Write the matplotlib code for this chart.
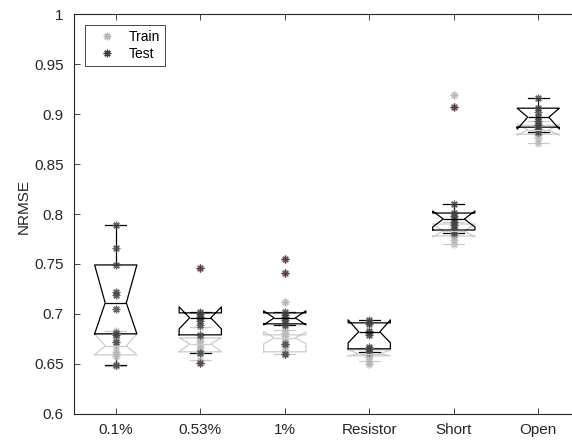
import numpy as np
import matplotlib
matplotlib.use("Agg")
import matplotlib.pyplot as plt
from matplotlib.ticker import FormatStrFormatter

plt.rcParams['font.family'] = ['Liberation Sans', 'DejaVu Sans']

categories = ['0.1%', '0.53%', '1%', 'Resistor', 'Short', 'Open']

# per-run NRMSE values
train_points = [
    [0.683, 0.680, 0.676, 0.672, 0.668, 0.662, 0.660, 0.658, 0.648],
    [0.687, 0.676, 0.673, 0.670, 0.667, 0.664, 0.661, 0.654],
    [0.712, 0.684, 0.681, 0.678, 0.676, 0.673, 0.668, 0.664, 0.660],
    [0.666, 0.663, 0.661, 0.660, 0.658, 0.657, 0.653, 0.650],
    [0.919, 0.792, 0.789, 0.786, 0.783, 0.781, 0.779, 0.777, 0.774, 0.770],
    [0.893, 0.890, 0.887, 0.884, 0.881, 0.879, 0.876, 0.871],
]
test_points = [
    [0.789, 0.766, 0.749, 0.722, 0.719, 0.705, 0.681, 0.679, 0.672, 0.649],
    [0.746, 0.702, 0.700, 0.697, 0.696, 0.693, 0.689, 0.679, 0.661, 0.651],
    [0.755, 0.741, 0.702, 0.699, 0.697, 0.694, 0.691, 0.689, 0.670, 0.660],
    [0.694, 0.692, 0.690, 0.683, 0.681, 0.679, 0.667, 0.665, 0.662],
    [0.907, 0.810, 0.801, 0.798, 0.795, 0.792, 0.789, 0.785, 0.783, 0.781],
    [0.916, 0.906, 0.902, 0.897, 0.893, 0.889, 0.887, 0.885, 0.882],
]

# box statistics (quartiles, median, notch limits, whisker ends, outliers)
train_q1 = [0.659, 0.662, 0.662, 0.658, 0.778, 0.880]
train_med = [0.668, 0.670, 0.676, 0.660, 0.783, 0.884]
train_q3 = [0.680, 0.676, 0.679, 0.664, 0.790, 0.889]
train_cilo = [0.659, 0.662, 0.670, 0.658, 0.777, 0.879]
train_cihi = [0.680, 0.676, 0.682, 0.664, 0.790, 0.890]
train_lo = [0.648, 0.654, 0.660, 0.653, 0.770, 0.871]
train_hi = [0.683, 0.687, 0.684, 0.666, 0.792, 0.893]
train_out = [[], [], [0.712], [0.650], [0.919], []]

test_q1 = [0.680, 0.679, 0.690, 0.665, 0.784, 0.887]
test_med = [0.711, 0.696, 0.696, 0.682, 0.795, 0.897]
test_q3 = [0.749, 0.701, 0.701, 0.691, 0.801, 0.906]
test_cilo = [0.680, 0.685, 0.689, 0.671, 0.787, 0.885]
test_cihi = [0.749, 0.707, 0.703, 0.694, 0.803, 0.906]
test_lo = [0.649, 0.661, 0.689, 0.662, 0.781, 0.882]
test_hi = [0.789, 0.702, 0.702, 0.694, 0.810, 0.916]
test_out = [[], [0.746, 0.651], [0.755, 0.741, 0.670, 0.660], [], [0.907], []]


def make_stats(q1, med, q3, cilo, cihi, lo, hi, out):
    stats = []
    for i in range(len(q1)):
        stats.append(dict(q1=q1[i], med=med[i], q3=q3[i], cilo=cilo[i],
                          cihi=cihi[i], whislo=lo[i], whishi=hi[i],
                          fliers=out[i]))
    return stats


def draw_boxes(ax, stats, color, flier_color):
    pos = np.arange(1, len(stats) + 1)
    lp = dict(color=color, linewidth=0.9)
    ax.bxp(stats, positions=pos, widths=0.5, shownotches=True,
           boxprops=lp, medianprops=lp, whiskerprops=lp, capprops=lp,
           flierprops=dict(marker='+', markeredgecolor=flier_color,
                           markersize=6, linestyle='none'),
           manage_ticks=False)


fig = plt.figure(figsize=(5.72, 4.44), dpi=100)
ax = fig.add_axes([0.1285, 0.0682, 0.8864, 0.8995])

train_col = (0.80, 0.80, 0.80)
test_col = (0.0, 0.0, 0.0)

draw_boxes(ax, make_stats(train_q1, train_med, train_q3, train_cilo, train_cihi,
                          train_lo, train_hi, train_out), train_col, (1.0, 0.6, 0.6))
draw_boxes(ax, make_stats(test_q1, test_med, test_q3, test_cilo, test_cihi,
                          test_lo, test_hi, test_out), test_col, (0.9, 0.1, 0.1))

star = (8, 2, 0)
for i in range(len(categories)):
    ax.plot(np.full(len(train_points[i]), i + 1), train_points[i],
            linestyle='none', marker=star, markersize=5.5, mew=0.9,
            color=(0.72, 0.72, 0.72), alpha=0.8,
            label='Train' if i == 0 else None)
for i in range(len(categories)):
    ax.plot(np.full(len(test_points[i]), i + 1), test_points[i],
            linestyle='none', marker=star, markersize=5.5, mew=0.9,
            color=(0.25, 0.25, 0.25), alpha=0.8,
            label='Test' if i == 0 else None)

ax.set_xlim(0.5, 6.5)
ax.set_ylim(0.6, 1.0)
ax.set_xticks(np.arange(1, len(categories) + 1))
ax.set_xticklabels(categories)
ax.set_yticks(np.arange(0.6, 1.001, 0.05))
ax.yaxis.set_major_formatter(FormatStrFormatter('%g'))
ax.set_ylabel('NRMSE', fontsize=11, color=(0.15, 0.15, 0.15))
ax.yaxis.set_label_coords(-0.085, 0.52)

ax.tick_params(direction='in', length=4, width=0.6, labelsize=11,
               colors=(0.15, 0.15, 0.15), top=True, right=False, pad=7)
ax.spines['right'].set_visible(False)
for s in ax.spines.values():
    s.set_color((0.15, 0.15, 0.15))
    s.set_linewidth(0.8)

leg = ax.legend(loc='upper left', bbox_to_anchor=(0.022, 0.973), fontsize=10,
                frameon=True, fancybox=False, edgecolor=(0.15, 0.15, 0.15),
                framealpha=1, handlelength=2.5, handletextpad=0.3,
                borderpad=0.35, labelspacing=0.2, borderaxespad=0)
leg.get_frame().set_linewidth(0.6)
for h in leg.legend_handles:
    h.set_alpha(1)

fig.savefig('out.png', dpi=100)
